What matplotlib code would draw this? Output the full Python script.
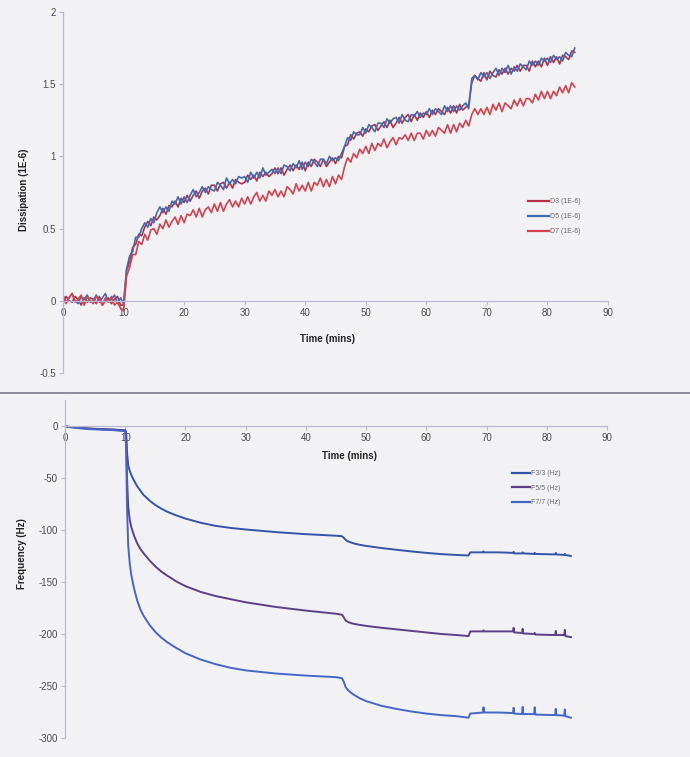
import numpy as np
import matplotlib
matplotlib.use("Agg")
import matplotlib.pyplot as plt
from matplotlib.lines import Line2D

# ---------------- data ----------------
# dissipation sampled every 0.5 min, 0 .. 84.5 min
d_time = np.arange(0, 85, 0.5)

d3 = [-0.02, 0.03, 0.00, -0.01, 0.03, 0.01, -0.03, 0.02, -0.01, 0.02,
      0.01, -0.02, 0.03, -0.03, 0.00, 0.02, -0.02, 0.01, 0.03, -0.03,
      -0.03, 0.21, 0.27, 0.37, 0.39, 0.46, 0.45, 0.51, 0.55, 0.52,
      0.58, 0.56, 0.59, 0.64, 0.60, 0.66, 0.65, 0.69, 0.65, 0.71,
      0.68, 0.73, 0.69, 0.73, 0.76, 0.71, 0.76, 0.78, 0.74, 0.80,
      0.80, 0.76, 0.81, 0.82, 0.78, 0.82, 0.78, 0.84, 0.82, 0.81,
      0.82, 0.87, 0.84, 0.87, 0.83, 0.89, 0.86, 0.89, 0.86, 0.88,
      0.92, 0.88, 0.92, 0.87, 0.91, 0.94, 0.90, 0.94, 0.91, 0.96,
      0.90, 0.96, 0.93, 0.98, 0.96, 0.93, 0.98, 0.93, 0.96, 0.99,
      0.95, 1.00, 0.99, 1.07, 1.08, 1.15, 1.12, 1.16, 1.17, 1.14,
      1.19, 1.17, 1.21, 1.22, 1.18, 1.21, 1.24, 1.20, 1.25, 1.20,
      1.23, 1.27, 1.23, 1.27, 1.29, 1.24, 1.29, 1.25, 1.30, 1.27,
      1.31, 1.27, 1.32, 1.29, 1.33, 1.31, 1.29, 1.34, 1.30, 1.35,
      1.30, 1.36, 1.32, 1.34, 1.36, 1.51, 1.56, 1.54, 1.52, 1.58,
      1.53, 1.59, 1.56, 1.55, 1.60, 1.57, 1.61, 1.57, 1.61, 1.59,
      1.63, 1.59, 1.63, 1.63, 1.59, 1.66, 1.62, 1.66, 1.62, 1.68,
      1.63, 1.69, 1.65, 1.69, 1.64, 1.70, 1.69, 1.67, 1.73, 1.72]

d5 = [0.03, -0.01, 0.02, 0.05, 0.00, -0.02, 0.03, 0.01, 0.04, -0.01,
      0.00, 0.04, -0.01, 0.02, 0.05, -0.01, 0.01, 0.04, -0.02, 0.02,
      -0.02, 0.22, 0.31, 0.34, 0.44, 0.44, 0.50, 0.54, 0.51, 0.57,
      0.54, 0.61, 0.65, 0.61, 0.65, 0.62, 0.69, 0.67, 0.72, 0.67,
      0.72, 0.68, 0.73, 0.77, 0.72, 0.75, 0.79, 0.75, 0.79, 0.77,
      0.76, 0.82, 0.80, 0.77, 0.85, 0.81, 0.84, 0.81, 0.86, 0.85,
      0.86, 0.82, 0.89, 0.85, 0.89, 0.85, 0.92, 0.87, 0.89, 0.91,
      0.88, 0.92, 0.88, 0.94, 0.93, 0.90, 0.95, 0.92, 0.97, 0.91,
      0.96, 0.93, 0.98, 0.96, 0.93, 0.98, 0.98, 0.95, 1.00, 0.97,
      0.99, 0.97, 1.02, 1.07, 1.13, 1.11, 1.17, 1.15, 1.15, 1.20,
      1.16, 1.22, 1.20, 1.17, 1.23, 1.23, 1.20, 1.26, 1.23, 1.26,
      1.27, 1.23, 1.29, 1.25, 1.24, 1.29, 1.28, 1.31, 1.27, 1.30,
      1.29, 1.33, 1.29, 1.33, 1.31, 1.29, 1.35, 1.31, 1.35, 1.31,
      1.35, 1.32, 1.35, 1.37, 1.33, 1.54, 1.56, 1.53, 1.58, 1.55,
      1.58, 1.54, 1.58, 1.61, 1.56, 1.61, 1.58, 1.63, 1.57, 1.62,
      1.59, 1.64, 1.62, 1.60, 1.66, 1.63, 1.66, 1.63, 1.68, 1.66,
      1.68, 1.65, 1.70, 1.67, 1.69, 1.66, 1.72, 1.70, 1.69, 1.75]

d7 = [0.04, -0.02, 0.02, 0.05, -0.01, 0.01, 0.04, -0.03, 0.03, 0.00,
      -0.02, 0.03, 0.01, -0.03, 0.02, -0.01, 0.03, -0.03, -0.01, -0.05,
      -0.07, 0.17, 0.23, 0.32, 0.32, 0.41, 0.39, 0.46, 0.42, 0.49,
      0.50, 0.46, 0.53, 0.50, 0.56, 0.51, 0.55, 0.58, 0.53, 0.59,
      0.54, 0.60, 0.59, 0.63, 0.58, 0.64, 0.58, 0.63, 0.65, 0.61,
      0.67, 0.62, 0.68, 0.62, 0.67, 0.70, 0.65, 0.69, 0.65, 0.71,
      0.67, 0.72, 0.67, 0.72, 0.75, 0.69, 0.73, 0.69, 0.76, 0.73,
      0.77, 0.72, 0.76, 0.72, 0.79, 0.77, 0.74, 0.81, 0.76, 0.80,
      0.76, 0.82, 0.76, 0.82, 0.80, 0.85, 0.79, 0.84, 0.79, 0.86,
      0.81, 0.87, 0.84, 0.93, 0.99, 0.96, 1.02, 0.99, 1.05, 1.02,
      1.07, 1.02, 1.09, 1.04, 1.09, 1.07, 1.12, 1.06, 1.10, 1.13,
      1.08, 1.13, 1.12, 1.15, 1.11, 1.16, 1.11, 1.16, 1.16, 1.12,
      1.18, 1.14, 1.18, 1.14, 1.20, 1.18, 1.16, 1.22, 1.16, 1.22,
      1.17, 1.23, 1.20, 1.25, 1.21, 1.29, 1.33, 1.29, 1.33, 1.29,
      1.34, 1.29, 1.36, 1.32, 1.37, 1.31, 1.37, 1.35, 1.33, 1.39,
      1.35, 1.40, 1.35, 1.40, 1.40, 1.37, 1.43, 1.39, 1.45, 1.40,
      1.45, 1.40, 1.45, 1.42, 1.48, 1.44, 1.49, 1.44, 1.51, 1.48]

f_time = [0, 2, 4, 6, 8, 10,
          10.15, 10.3, 10.5, 10.75, 11,
          11.5, 12, 12.5, 13, 14,
          15, 16, 17, 18.5, 20,
          22.5, 25, 27.5, 30, 35,
          40, 45, 46, 46.3, 46.6,
          47, 47.5, 48, 49, 50,
          52.5, 55, 57.5, 60, 62.5,
          65, 67, 67.3,
          69.4, 69.5, 69.6, 72,
          74.4, 74.5, 74.6, 75.9, 76, 76.1,
          77.9, 78, 78.1, 81.4, 81.5, 81.6,
          82.9, 83, 83.1, 84]

f3 = [-0.5, -1.5, -2.5, -3, -3.5, -4,
      -6, -25, -38, -43, -47,
      -53, -58, -62, -66, -71.5,
      -76, -79.5, -82.5, -86, -89,
      -93, -96, -98, -99.5, -102,
      -104, -105.5, -106, -107.5, -109.5,
      -111, -112, -113, -114.3, -115.3,
      -117.3, -119, -120.6, -122, -123.2,
      -124, -124.5, -121.5,
      -121.5, -120.5, -121.5, -121.5,
      -122, -121, -122.5, -122.5, -121.5, -122.5,
      -123, -122, -123, -123.5, -122, -123.5,
      -124, -123, -124, -125]

f5 = [-0.5, -1.5, -2.5, -3, -3.5, -4.5,
      -10, -50, -78, -90, -97,
      -106, -113, -118, -122, -129,
      -135, -140, -144, -149.5, -154,
      -159.5, -163.5, -166.5, -169.5, -174,
      -177.5, -180.5, -181.5, -184, -187,
      -188.5, -189.5, -190.3, -191.3, -192.2,
      -194, -195.5, -197, -198.5, -200,
      -201, -202, -197.5,
      -197.5, -196.5, -197.5, -197.5,
      -197.5, -194, -198.5, -199, -195, -199.5,
      -200, -199, -200.5, -201, -197, -201,
      -201, -196, -202, -203]

f7 = [-0.5, -2, -3, -3.5, -4, -5,
      -20, -80, -115, -132, -143,
      -157, -168, -176, -182, -191,
      -198, -203.5, -208, -213.5, -218.5,
      -224.5, -229, -232.5, -235, -238,
      -240, -241.5, -242.5, -246, -251,
      -254, -256.5, -258.5, -262, -264.5,
      -269, -272, -274.5, -276.5, -278,
      -279, -280.5, -276.5,
      -275.5, -270.5, -275.5, -275.5,
      -276, -271, -276.5, -277, -270, -277,
      -277, -270.5, -277.5, -278, -272, -278,
      -278.5, -272.5, -279, -280.5]

d_labels = ["D3 (1E-6)", "D5 (1E-6)", "D7 (1E-6)"]
f_labels = ["F3/3 (Hz)", "F5/5 (Hz)", "F7/7 (Hz)"]
x_ticks = [0, 10, 20, 30, 40, 50, 60, 70, 80, 90]
d_ticks = [-0.5, 0, 0.5, 1, 1.5, 2]
d_tick_labels = ["-0.5", "0", "0.5", "1", "1.5", "2"]
f_ticks = [0, -50, -100, -150, -200, -250, -300]

# ---------------- style ----------------
plt.rcParams['font.family'] = ['Liberation Sans', 'DejaVu Sans']
BG = '#f2f2f5'
SPINE = '#b9b9d2'
TXT = '#4a4a50'

fig = plt.figure(figsize=(6.9, 7.57), dpi=100, facecolor=BG)

def style_axis(ax):
    ax.set_facecolor(BG)
    ax.patch.set_alpha(0)
    for s in ['top', 'right']:
        ax.spines[s].set_visible(False)
    ax.spines['bottom'].set_position(('data', 0))
    ax.spines['left'].set_color(SPINE)
    ax.spines['bottom'].set_color(SPINE)
    ax.spines['left'].set_linewidth(0.9)
    ax.spines['bottom'].set_linewidth(0.9)
    ax.tick_params(axis='both', colors=SPINE, labelcolor=TXT, labelsize=7,
                   length=3, width=0.8, direction='out', pad=2)
    ax.set_xlim(0, 90)
    ax.set_xticks(x_ticks)
    ax.set_xticklabels([str(v) for v in x_ticks])

# ---- top: dissipation ----
ax1 = fig.add_axes([0.0913, 0.5073, 0.7899, 0.4769])
style_axis(ax1)
ax1.set_ylim(-0.5, 2)
ax1.set_yticks(d_ticks)
ax1.set_yticklabels(d_tick_labels)
d_colors = ['#b83046', '#3a6db5', '#d4424f']
for y, c, lab in zip([d3, d5, d7], d_colors, d_labels):
    ax1.plot(d_time, y, color=c, lw=1.2, label=lab)
ax1.text(0.485, 0.095, "Time (mins)", transform=ax1.transAxes, ha='center',
         va='center', fontsize=7, fontweight='bold', color='#222228')
fig.text(24/690, 1-190/757, "Dissipation (1E-6)", rotation=90, ha='center',
         va='center', fontsize=7, fontweight='bold', color='#222228')
leg1 = ax1.legend(loc='upper left', bbox_to_anchor=(528/690, 1-198/757),
                  bbox_transform=fig.transFigure, frameon=False, fontsize=5,
                  handlelength=3.0, handletextpad=0.2, labelspacing=1.15,
                  borderpad=0, borderaxespad=0)
for t in leg1.get_texts():
    t.set_color('#66666e')
for h in leg1.legend_handles:
    h.set_linewidth(1.6)

# ---- bottom: frequency ----
ax2 = fig.add_axes([0.0942, 0.0251, 0.7855, 0.4465])
style_axis(ax2)
ax2.set_ylim(-300, 25)
ax2.set_yticks(f_ticks)
ax2.set_yticklabels([str(v) for v in f_ticks])
f_colors = ['#3553a8', '#5c3f88', '#4466c8']
for y, c, lab in zip([f3, f5, f7], f_colors, f_labels):
    ax2.plot(f_time, y, color=c, lw=1.4, label=lab)
ax2.text(0.525, 0.835, "Time (mins)", transform=ax2.transAxes, ha='center',
         va='center', fontsize=7, fontweight='bold', color='#222228')
fig.text(22/690, 1-554/757, "Frequency (Hz)", rotation=90, ha='center',
         va='center', fontsize=7, fontweight='bold', color='#222228')
leg2 = ax2.legend(loc='upper left', bbox_to_anchor=(512/690, 1-470/757),
                  bbox_transform=fig.transFigure, frameon=False, fontsize=5,
                  handlelength=2.6, handletextpad=0.2, labelspacing=1.1,
                  borderpad=0, borderaxespad=0)
for t in leg2.get_texts():
    t.set_color('#66666e')
for h in leg2.legend_handles:
    h.set_linewidth(1.6)

# separator between the two charts
fig.add_artist(Line2D([0, 1], [1-393/757, 1-393/757], transform=fig.transFigure,
                      color='#8c8c9c', lw=1.4))

fig.savefig("out.png", dpi=100, facecolor=BG)
